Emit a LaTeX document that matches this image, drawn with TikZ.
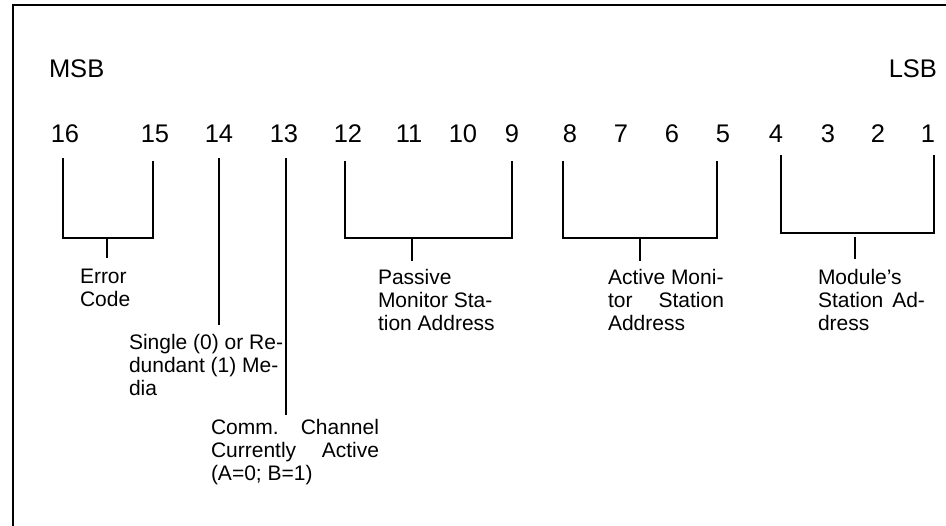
\documentclass[tikz,border=0pt]{standalone}
\usepackage{fontspec}
\setmainfont{Liberation Sans}
\begin{document}
\begin{tikzpicture}[x=1pt,y=-1pt,
  line width=2pt, line cap=butt,
  bitnum/.style={inner sep=0pt, anchor=base, font=\fontsize{25.5}{30}\selectfont},
  endlabel/.style={inner sep=0pt, anchor=base, font=\fontsize{25.5}{30}\selectfont},
  fieldlabel/.style={inner sep=0pt, anchor=north west, align=left,
    font=\fontsize{21}{23}\selectfont},
  wire/.style={line width=2pt}]
\useasboundingbox (0,0) rectangle (946,526);
\clip (0,0) rectangle (946,526);
% outer frame (continues past the right and bottom edges)
\draw[line width=2pt] (13,960) -- (13,5) -- (1000,5);

% MSB / LSB markers
\node[endlabel, anchor=base west] (msb) at (48,78) {MSB};
\node[endlabel, anchor=base east] (lsb) at (938,78) {LSB};

% bit numbers
\foreach \n/\x in {16/65,15/155,14/219,13/284,12/348,11/409,10/463,9/512,
                   8/570,7/621,6/672,5/723,4/776,3/828,2/878,1/928}
  \node[bitnum] (b\n) at (\x,143) {\n};

% field labels (justified lines spread with \makebox[..][s])
\node[fieldlabel] (err) at (79,268) {Error\\Code};
\node[fieldlabel] (med) at (128,333)
  {Single (0) or Re-\\dundant (1) Me-\\dia};
\node[fieldlabel] (chan) at (210,418)
  {\makebox[168pt][s]{Comm. Channel}\\\makebox[168pt][s]{Currently Active}\\(A=0; B=1)};
\node[fieldlabel] (pas) at (377,268) {Passive\\Monitor Sta-\\tion Address};
\node[fieldlabel] (act) at (607,268)
  {Active Moni-\\\makebox[116pt][s]{tor Station}\\Address};
\node[fieldlabel] (mod) at (817,268)
  {Module's\\\makebox[107pt][s]{Station Ad-}\\dress};

% bracket corner points
\coordinate (e1) at (63,158);  \coordinate (e2) at (153,161);
\coordinate (p1) at (345,161); \coordinate (p2) at (512,161);
\coordinate (a1) at (563,161); \coordinate (a2) at (717,161);
\coordinate (m1) at (781,155); \coordinate (m2) at (934,155);
\coordinate (s14) at (219,158); \coordinate (s13) at (286,158);

% Error Code bracket
\draw[wire] (e1) |- (153,238) -- (e2);
\draw[wire] (107,238) -- (107,258);
% Single/Redundant media line
\draw[wire] (s14) -- (219,325);
% Channel line
\draw[wire] (s13) -- (286,415);
% Passive monitor bracket
\draw[wire] (p1) |- (512,238) -- (p2);
\draw[wire] (412,238) -- (412,261);
% Active monitor bracket
\draw[wire] (a1) |- (717,238) -- (a2);
\draw[wire] (640,238) -- (640,261);
% Module's station bracket
\draw[wire] (m1) |- (934,233) -- (m2);
\draw[wire] (855,237) -- (855,259);
\end{tikzpicture}
\end{document}
